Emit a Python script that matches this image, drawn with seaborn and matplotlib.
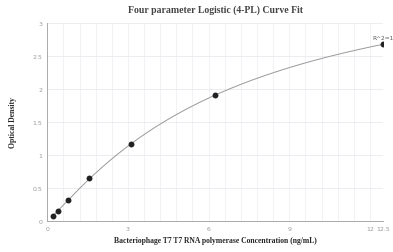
import numpy as np
import pandas as pd
import matplotlib
matplotlib.use("Agg")
import matplotlib.pyplot as plt
import seaborn as sns

conc = [0.195, 0.39, 0.78, 1.56, 3.125, 6.25, 12.5]
od = [0.08, 0.16, 0.32, 0.65, 1.17, 1.91, 2.67]
x_ticks = [0, 3, 6, 9, 12, 12.5]
y_ticks = [0, 0.5, 1, 1.5, 2, 2.5, 3]

df = pd.DataFrame({"conc": conc, "od": od})

# 4PL fit: for each (b, c), a and d are solved by linear least squares
xa = np.array(conc); ya = np.array(od)
best = None
for b in np.linspace(0.5, 2.5, 201):
    for c in np.logspace(0, 2.5, 301):
        g = 1.0 / (1.0 + (xa / c) ** b)
        A = np.column_stack([g, 1 - g])
        coef, *_ = np.linalg.lstsq(A, ya, rcond=None)
        r = np.sum((A @ coef - ya) ** 2)
        if best is None or r < best[0]:
            best = (r, b, c, coef)
_, b, c, (a, d) = best
xf = np.linspace(min(conc), max(conc), 300)
fit = pd.DataFrame({"conc": xf, "od": d + (a - d) / (1 + (xf / c) ** b)})

sns.set_style("white")
fig = plt.figure(figsize=(3.93, 2.53), dpi=100)
ax = fig.add_axes([0.1204, 0.1206, 0.855, 0.7865])

# grid
for gx in np.arange(0.6, 12.5, 0.6):
    ax.axvline(gx, color="#eef0f4", lw=0.6, zorder=0)
for gy in y_ticks[1:]:
    ax.axhline(gy, color="#e8eaee", lw=0.6, zorder=0)

sns.lineplot(data=fit, x="conc", y="od", ax=ax, color="#999999", lw=0.7, zorder=2)
sns.scatterplot(data=df, x="conc", y="od", ax=ax, color="#222222", s=18,
                edgecolor="#222222", linewidth=0, zorder=3)
ax.annotate("R^2=1", (conc[-1], od[-1]), xytext=(-0.5, 3.5), textcoords="offset points",
            ha="center", va="bottom", fontsize=4.2, color="#555555")

ax.set_xlim(0, 12.5)
ax.set_ylim(0, 3)
ax.set_xticks(x_ticks)
ax.set_xticklabels([str(t) for t in x_ticks])
ax.set_yticks(y_ticks)
ax.set_yticklabels([f"{t:g}" for t in y_ticks])
ax.tick_params(axis="both", labelsize=4.5, labelcolor="#999999", color="#aaaaaa",
               length=2, width=0.6, pad=1.5, direction="out")
for s in ["top", "right"]:
    ax.spines[s].set_visible(False)
for s in ["left", "bottom"]:
    ax.spines[s].set_color("#aaaaaa")
    ax.spines[s].set_linewidth(0.7)

ax.set_xlabel("Bacteriophage T7 T7 RNA polymerase Concentration (ng/mL)",
              fontfamily="Liberation Serif", fontweight="bold", fontsize=5.5, labelpad=3.5)
ax.set_ylabel("Optical Density", fontfamily="Liberation Serif", fontweight="bold",
              fontsize=5.5, labelpad=11)
ax.set_title("Four parameter Logistic (4-PL) Curve Fit", fontfamily="Liberation Serif",
             fontweight="bold", fontsize=7, color="#444444", pad=7.5)

fig.savefig("out.png", dpi=100)
